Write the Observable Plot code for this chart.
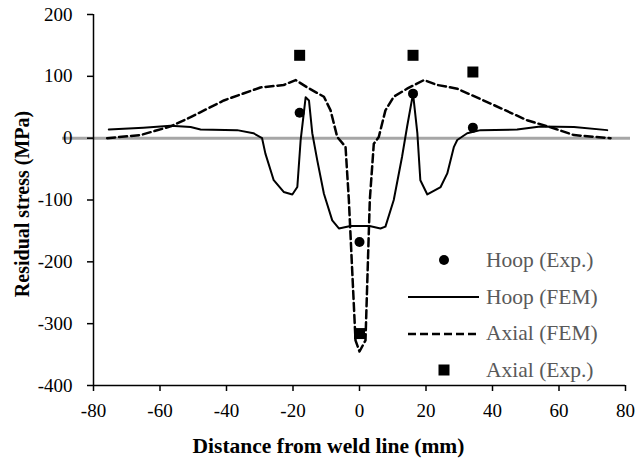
<!DOCTYPE html>
<html>
<head>
<meta charset="utf-8">
<script src="https://cdn.jsdelivr.net/npm/d3@7"></script>
<script src="https://cdn.jsdelivr.net/npm/@observablehq/plot@0.6"></script>
<style>
  html, body { margin: 0; padding: 0; background: #fff; }
  #wrap { position: relative; width: 636px; height: 461px; font-family: "Liberation Serif", "Times New Roman", serif; }
  #wrap svg text { font-family: "Liberation Serif", "Times New Roman", serif; font-variant: normal; }
  #legend { position: absolute; left: 408px; top: 242px; font-size: 21.5px; color: #595959; }
  #legend .row { display: flex; align-items: center; height: 36.7px; }
  #legend svg { width: 72px; height: 20px; margin-right: 6px; flex: none; }
</style>
</head>
<body>
<div id="wrap"></div>
<script>
// Hoop (FEM)
const hoopFemX = [-75.4,-65,-56.8,-50.8,-47.8,-36.8,-31.9,-29.3,-28.3,-25.8,-22.8,-20.2,-18.7,-17.7,-16.2,-15.2,-14.2,-12.7,-10.7,-8.2,-6.2,-2.7,3,6.3,7.8,10.3,12.8,14.3,16.1,17.4,18.3,20.4,24.4,26.4,28.4,29.4,32.4,36.4,47.4,54.4,64.5,74.5];
const hoopFemY = [14,17,20,18,14,13,8,0,-25,-68,-87,-91,-79,-3,66,61,8,-36,-90,-133,-146,-142,-142,-146,-143,-100,-30,18,72,8,-68,-91,-79,-57,-14,-3,8,13,14,19,18,13];
// Axial (FEM)
const axialFemX = [-75.9,-65.9,-56.8,-50.8,-40.8,-29.8,-22.8,-19.2,-15.7,-10.7,-8.7,-6.7,-4.2,-3.2,-1.2,0,1.8,3.1,4.3,5.8,7.8,10.3,14.3,19.4,23.4,29.4,39.4,50.4,58.4,64.5,75.5];
const axialFemY = [0,5,19,34,61,82,86,94,82,67,45,2,-14,-100,-327,-345,-327,-100,-9,2,45,67,80,94,86,80,56,29,16,5,0];
// Experiments
const hoopExpX = [-18, 0, 16.1, 34.1];
const hoopExpY = [41, -168, 72, 17];
const axialExpX = [-18, 0, 16.1, 34.1];
const axialExpY = [134, -316, 134, 107];
const xTicks = [-80,-60,-40,-20,0,20,40,60,80];
const yTicks = [-400,-300,-200,-100,0,100,200];
const legendLabels = ["Hoop (Exp.)", "Hoop (FEM)", "Axial (FEM)", "Axial (Exp.)"];

const hoopFem = hoopFemX.map((x,i) => ({x, y: hoopFemY[i]}));
const axialFem = axialFemX.map((x,i) => ({x, y: axialFemY[i]}));
const hoopExp = hoopExpX.map((x,i) => ({x, y: hoopExpY[i]}));
const axialExp = axialExpX.map((x,i) => ({x, y: axialExpY[i]}));
const fmt = d => d < 0 ? "-" + Math.abs(d) : String(d);
const serif = "Liberation Serif, Times New Roman, serif";

const chart = Plot.plot({
  width: 636, height: 461,
  marginLeft: 93, marginRight: 11, marginTop: 14, marginBottom: 76,
  style: {fontFamily: serif, fontSize: "19px", color: "#000", background: "#fff"},
  x: {domain: [-80, 80]},
  y: {domain: [-400, 200]},
  marks: [
    Plot.ruleY([0], {stroke: "#a6a6a6", strokeWidth: 3, insetRight: -5, insetLeft: -31}),
    Plot.line(hoopFem, {x: "x", y: "y", stroke: "#000", strokeWidth: 2}),
    Plot.line(axialFem, {x: "x", y: "y", stroke: "#000", strokeWidth: 2.5, strokeDasharray: "8,4"}),
    Plot.dot(hoopExp, {x: "x", y: "y", r: 5, fill: "#000", symbol: "circle"}),
    Plot.dot(axialExp, {x: "x", y: "y", r: 6.2, fill: "#000", symbol: "square"}),
    Plot.ruleX([-80], {stroke: "#000", strokeWidth: 1.5}),
    Plot.ruleY([-400], {stroke: "#000", strokeWidth: 1.5}),
    Plot.axisX({ticks: xTicks, tickSize: 6, tickPadding: 12, tickFormat: fmt, label: null, fontSize: 19, fontFamily: serif, fontVariant: "normal", strokeWidth: 1.5}),
    Plot.axisY({ticks: yTicks, tickSize: 6, tickPadding: 15, tickFormat: fmt, label: null, fontSize: 19, fontFamily: serif, fontVariant: "normal", strokeWidth: 1.5}),
    Plot.text(["Distance from weld line (mm)"], {frameAnchor: "bottom", lineAnchor: "bottom", dx: -31, dy: 67, fontWeight: "bold", fontSize: 21.5, fontFamily: serif, text: d => d}),
    Plot.text(["Residual stress (MPa)"], {frameAnchor: "left", textAnchor: "middle", rotate: -90, dx: -71, dy: 4, fontWeight: "bold", fontSize: 20, fontFamily: serif, text: d => d})
  ]
});
const wrap = document.getElementById("wrap");
wrap.appendChild(chart);

// Legend
const legend = document.createElement("div");
legend.id = "legend";
const symbols = [
  '<circle cx="36" cy="10" r="5" fill="#000"/>',
  '<line x1="0" x2="71" y1="10" y2="10" stroke="#000" stroke-width="2"/>',
  '<line x1="0" x2="71" y1="10" y2="10" stroke="#000" stroke-width="2.5" stroke-dasharray="8,4"/>',
  '<rect x="30.5" y="4.5" width="11" height="11" fill="#000"/>'
];
legendLabels.forEach((lab, i) => {
  const row = document.createElement("div");
  row.className = "row";
  row.innerHTML = '<svg viewBox="0 0 72 20">' + symbols[i] + '</svg><span>' + lab + '</span>';
  legend.appendChild(row);
});
wrap.appendChild(legend);
</script>
</body>
</html>
